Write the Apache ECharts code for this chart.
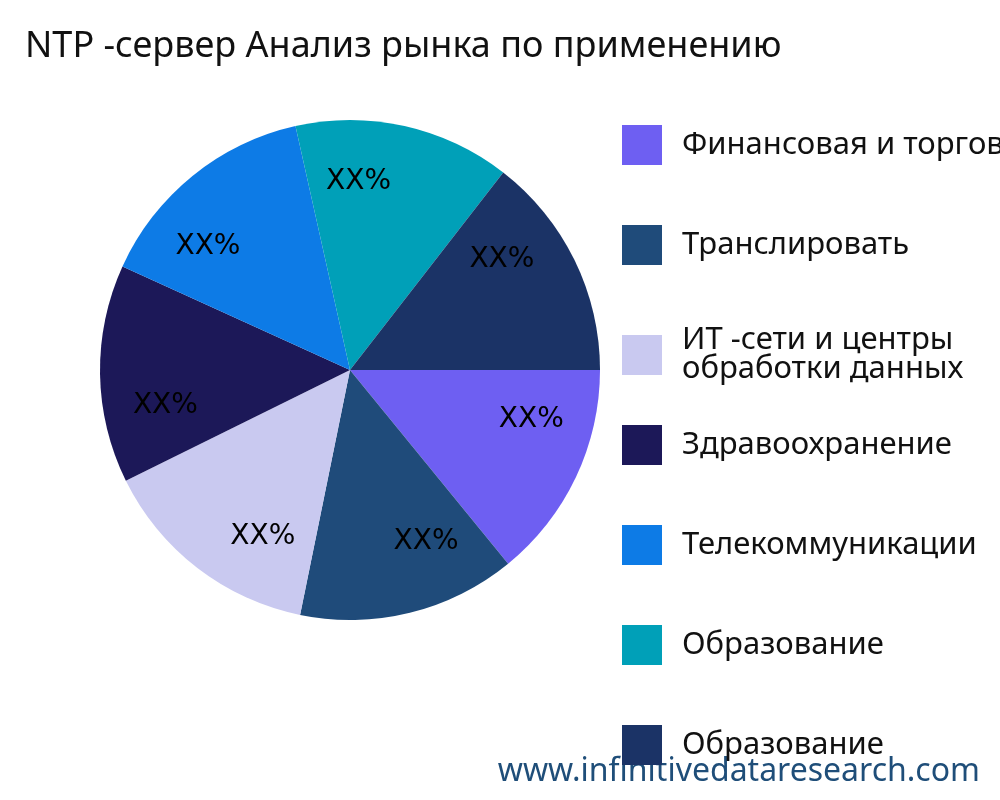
<!DOCTYPE html>
<html><head><meta charset="utf-8">
<script src="https://cdn.jsdelivr.net/npm/echarts@6/dist/echarts.min.js"></script>
<style>html,body{margin:0;padding:0;background:#fff}#c{width:1000px;height:800px}</style>
</head><body><div id="c"></div>
<script>
const categories = ["Финансовая и торговая", "Транслировать", "ИТ -сети и центры\nобработки данных", "Здравоохранение", "Телекоммуникации", "Образование", "Образование "];
const values = [14.1, 14.1, 14.5, 14.1, 14.7, 14.0, 14.5];
const labels = ["XX%", "XX%", "XX%", "XX%", "XX%", "XX%", "XX%"];
const colors = ["#6E5FF2", "#1F4B7A", "#C9C9F0", "#1C1858", "#0D7BE6", "#00A0B8", "#1B3366"];
const font = "'Noto Sans', 'Open Sans', sans-serif";
const data = categories.map((n, i) => ({name: n, value: values[i], itemStyle: {color: colors[i]}}));
const legendBase = {orient: 'vertical', left: 617, itemWidth: 40, itemHeight: 40, itemGap: 60,
    icon: 'rect', selectedMode: false,
    textStyle: {fontFamily: font, fontSize: 31, color: '#111', lineHeight: 29, padding: [0,0,0,15]}};
const chart = echarts.init(document.getElementById('c'));
chart.setOption({
  animation: false,
  title: {text: "NTP -сервер Анализ рынка по применению", left: 20, top: 24,
    textStyle: {fontFamily: font, fontSize: 36, fontWeight: 'normal', color: '#111'}},
  legend: [
    Object.assign({}, legendBase, {top: 120, data: categories.slice(0, 3)}),
    Object.assign({}, legendBase, {top: 420, data: categories.slice(3)})
  ],
  graphic: [{type: 'text', right: 20, bottom: 12,
    style: {text: 'www.infinitivedataresearch.com', font: "32px 'Noto Sans', sans-serif", fill: '#1F4E79'}}],
  series: [
    {type: 'pie', center: [350, 370], radius: [0, 250], startAngle: 0, clockwise: true,
     data: data, label: {show: false}, labelLine: {show: false}, silent: true},
    {type: 'pie', center: [350, 370], radius: [120, 250], startAngle: 10, clockwise: true,
     data: categories.map((n, i) => ({name: n, value: values[i], label: {formatter: labels[i]}})),
     itemStyle: {color: 'transparent'}, legendHoverLink: false, silent: true,
     label: {show: true, position: 'inside', fontFamily: "'DejaVu Sans', sans-serif", fontSize: 28, color: '#000'},
     labelLine: {show: false}}
  ]
});
</script></body></html>
